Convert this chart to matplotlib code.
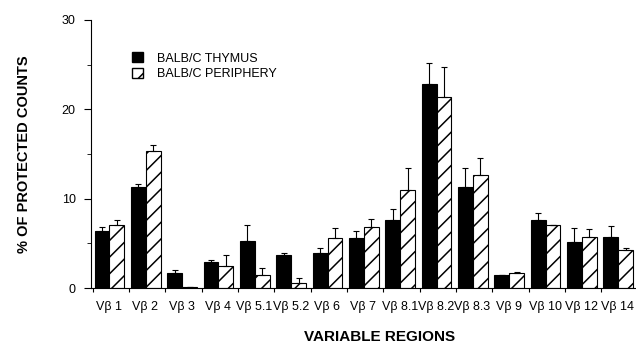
import numpy as np
import matplotlib
matplotlib.use("Agg")
import matplotlib.pyplot as plt
from matplotlib.patches import Patch

plt.rcParams['font.family'] = ['Liberation Sans', 'DejaVu Sans']
plt.rcParams['hatch.linewidth'] = 1.1

regions = ["Vβ 1", "Vβ 2", "Vβ 3", "Vβ 4", "Vβ 5.1", "Vβ 5.2", "Vβ 6", "Vβ 7",
           "Vβ 8.1", "Vβ 8.2", "Vβ 8.3", "Vβ 9", "Vβ 10", "Vβ 12", "Vβ 14"]
thymus = [6.4, 11.3, 1.7, 2.95, 5.3, 3.7, 3.9, 5.65, 7.6, 22.8, 11.3, 1.45, 7.6, 5.2, 5.75]
thymus_top = [6.8, 11.7, 2.0, 3.2, 7.05, 3.95, 4.45, 6.4, 8.9, 25.2, 13.4, 1.5, 8.35, 6.7, 6.9]
periphery = [7.05, 15.3, 0.1, 2.45, 1.45, 0.6, 5.55, 6.8, 11.0, 21.4, 12.6, 1.7, 7.05, 5.75, 4.25]
periphery_top = [7.6, 16.0, 0.1, 3.7, 2.2, 1.1, 6.7, 7.7, 13.4, 24.7, 14.6, 1.8, 7.1, 6.6, 4.5]

x = np.arange(len(regions))
w = 0.41
t_err = np.array(thymus_top) - np.array(thymus)
p_err = np.array(periphery_top) - np.array(periphery)

fig = plt.figure(figsize=(6.36, 3.43), dpi=100)
ax = fig.add_axes([0.143, 0.160, 0.857, 0.782])

ax.bar(x + 0.05, thymus, w, align='edge', color='black', edgecolor='black', lw=0.8)
ax.bar(x + 0.05 + w, periphery, w, align='edge', color='white', edgecolor='black',
       hatch='//', lw=0.8)
ax.errorbar(x + 0.05 + w / 2, thymus, yerr=[np.zeros(len(x)), t_err], fmt='none',
            ecolor='black', elinewidth=0.8, capsize=2.5, capthick=0.8)
ax.errorbar(x + 0.05 + 1.5 * w, periphery, yerr=[np.zeros(len(x)), p_err], fmt='none',
            ecolor='black', elinewidth=0.8, capsize=2.5, capthick=0.8)

ax.set_xlim(-0.05, 14.95)
ax.set_ylim(0, 30)
ax.spines['top'].set_visible(False)
ax.spines['right'].set_visible(False)

ax.set_xticks(np.arange(0, 15))
ax.set_xticklabels([])
ax.set_xticks(x + 0.45, minor=True)
ax.set_xticklabels(regions, minor=True, fontsize=9)
ax.tick_params(axis='x', which='major', length=3, direction='out')
ax.tick_params(axis='x', which='minor', length=0, pad=9)

ax.set_yticks([0, 10, 20, 30])
ax.set_yticks([5, 15, 25], minor=True)
ax.tick_params(axis='y', which='major', length=5, labelsize=9, pad=6)
ax.tick_params(axis='y', which='minor', length=3)

ax.set_ylabel("% OF PROTECTED COUNTS", fontsize=10.5, fontweight='bold', labelpad=22)
ax.set_xlabel("VARIABLE REGIONS", fontsize=11, fontweight='bold', labelpad=10)
ax.xaxis.set_label_coords(0.53, -0.155)

handles = [Patch(facecolor='black', edgecolor='black'),
           Patch(facecolor='white', edgecolor='black', hatch='//')]
ax.legend(handles, ["BALB/C THYMUS", "BALB/C PERIPHERY"], loc='upper left',
          bbox_to_anchor=(0.075, 0.88), frameon=False, fontsize=9,
          handlelength=0.9, handleheight=0.9, handletextpad=1.1, labelspacing=0.25,
          borderaxespad=0, borderpad=0)

fig.savefig("out.png", dpi=100)
